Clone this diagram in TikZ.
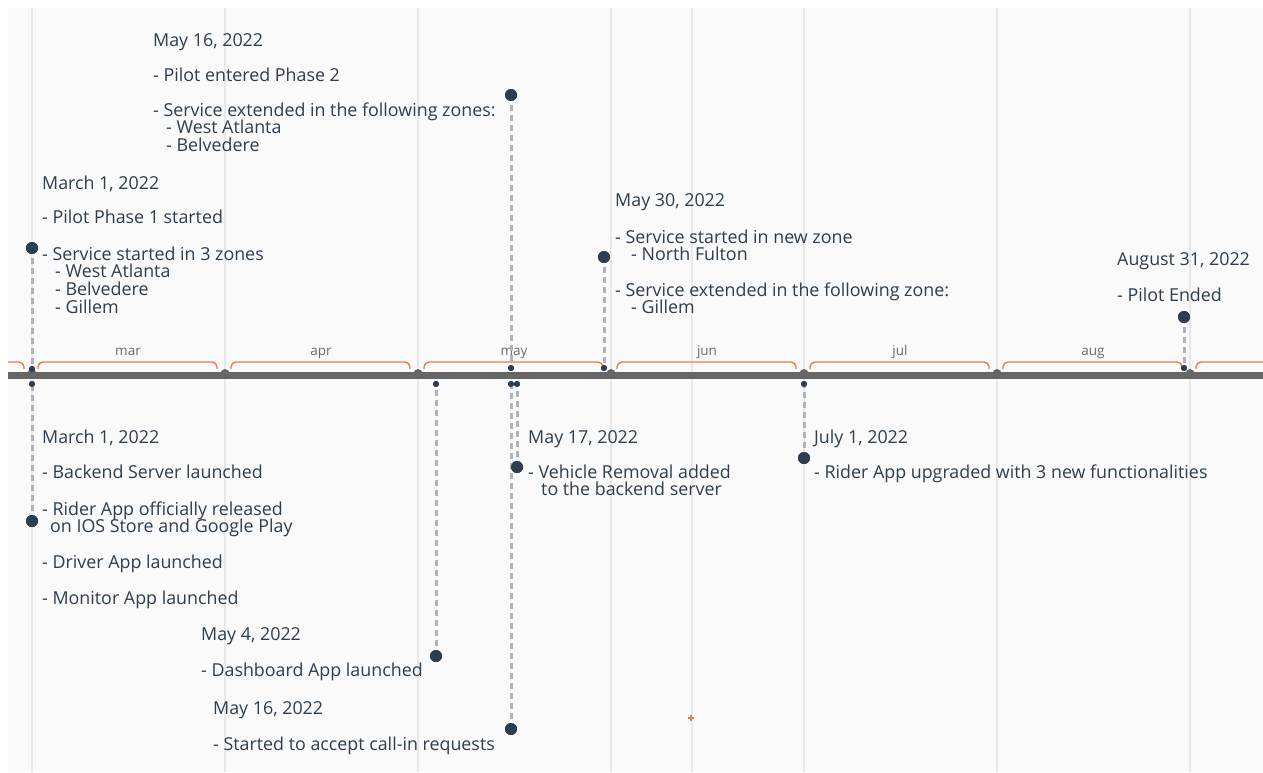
\documentclass[tikz,border=0pt]{standalone}
\usepackage{fontspec}
\setmainfont{Open Sans}
\definecolor{ink}{HTML}{2C3E50}
\definecolor{panel}{HTML}{FAFAFA}
\definecolor{gridc}{HTML}{E8E8E8}
\definecolor{axisc}{HTML}{666666}
\definecolor{dashc}{HTML}{B0B3BA}
\definecolor{bracec}{HTML}{F07A45}
\definecolor{monthc}{HTML}{6A6A6A}
\tikzset{
  txt/.style={anchor=base west, inner sep=0pt, text=ink, font=\fontsize{17.85}{18}\selectfont},
  month/.style={anchor=base, inner sep=0pt, text=monthc, font=\fontsize{13.5}{15}\selectfont},
  bigdot/.style={circle, fill=ink, minimum size=12pt, inner sep=0pt},
  smalldot/.style={circle, fill=ink, minimum size=6pt, inner sep=0pt},
  bump/.style={circle, fill=axisc, minimum size=9pt, inner sep=0pt},
  stem/.style={draw=dashc, line width=3pt, dash pattern=on 6pt off 4pt},
  gridline/.style={draw=gridc, line width=1.5pt},
  brace/.style={draw=bracec, line width=1.4pt, rounded corners=5pt},
}
\newcommand\tl[4]{\node[txt] (#1) at (#2,#3) {#4};}
\begin{document}
\begin{tikzpicture}[x=1pt,y=-1pt]
\useasboundingbox (0,0) rectangle (1263,772);
\fill[white] (0,0) rectangle (1263,772);
\fill[panel] (8,8) rectangle (1263,772);
\foreach \x in {32,225,418,611,692,804,997,1190} \draw[gridline] (\x,8) -- (\x,772);
% braces
\begin{scope}
\clip (8,8) rectangle (1263,772);
\draw[brace] (-20,369) -- (-20,362) -- (24,362) -- (24,369);
\foreach \m in {32,225,418,611,804,997} {
  \draw[brace] (\m+6,369) -- (\m+6,362) -- (\m+185,362) -- (\m+185,369);
}
\draw[brace] (1196,369) -- (1196,362) -- (1290,362) -- (1290,369);
\end{scope}
% month labels
\node[month] (mmar) at (128,355) {mar};
\node[month] (mapr) at (321,355) {apr};
\node[month] (mmay) at (514,355) {may};
\node[month] (mjun) at (707,355) {jun};
\node[month] (mjul) at (900,355) {jul};
\node[month] (maug) at (1093,355) {aug};
% event dots
\node[bigdot] (a1) at (32,248) {};   \node[smalldot] (a1s) at (32,369) {};
\node[bigdot] (a2) at (511,95) {};   \node[smalldot] (a2s) at (511,368) {};
\node[bigdot] (a3) at (604,257) {};  \node[smalldot] (a3s) at (604,368) {};
\node[bigdot] (a4) at (1184,317) {}; \node[smalldot] (a4s) at (1184,368) {};
\node[bigdot] (b1) at (32,521) {};   \node[smalldot] (b1s) at (32,384) {};
\node[bigdot] (b2) at (436,656) {};  \node[smalldot] (b2s) at (436,384) {};
\node[bigdot] (b3) at (511,729) {};  \node[smalldot] (b3s) at (511,384) {};
\node[bigdot] (b4) at (517,467) {};  \node[smalldot] (b4s) at (517,384) {};
\node[bigdot] (b5) at (804,458) {};  \node[smalldot] (b5s) at (804,384) {};
\foreach \e in {a1,a2,a3,a4,b1,b2,b3,b4,b5} \draw[stem] (\e.center) -- (\e s.center);
% axis
\coordinate (axl) at (8,375.5);
\coordinate (axr) at (1263,375.5);
\draw[axisc, line width=7pt] (axl) -- (axr);
\foreach \m/\n in {225/k1,418/k2,611/k3,804/k4,997/k5,1190/k6} \node[bump] (\n) at (\m,373.5) {};
\node[bump] (k0) at (32,373.5) {};
% redraw dots above axis
\foreach \e/\x/\y in {a1s/32/369,a2s/511/368,a3s/604/368,a4s/1184/368,b1s/32/384,b2s/436/384,b3s/511/384,b4s/517/384,b5s/804/384}
  \node[smalldot] (\e r) at (\x,\y) {};
\foreach \e/\x/\y in {a1/32/248,a2/511/95,a3/604/257,a4/1184/317,b1/32/521,b2/436/656,b3/511/729,b4/517/467,b5/804/458}
  \node[bigdot] (\e r) at (\x,\y) {};
% current time marker
\draw[bracec, line width=1.2pt] (688,718) -- (694,718) (691,715) -- (691,721);
% texts top
\tl{t1a}{42}{189}{March 1, 2022}
\tl{t1b}{42}{223}{- Pilot Phase 1 started}
\tl{t1c}{42}{260}{- Service started in 3 zones}
\tl{t1d}{55}{277}{- West Atlanta}
\tl{t1e}{55}{295}{- Belvedere}
\tl{t1f}{55}{313}{- Gillem}
\tl{t2a}{153}{46}{May 16, 2022}
\tl{t2b}{153}{81}{- Pilot entered Phase 2}
\tl{t2c}{153}{116}{- Service extended in the following zones:}
\tl{t2d}{166}{133}{- West Atlanta}
\tl{t2e}{166}{151}{- Belvedere}
\tl{t3a}{615}{206}{May 30, 2022}
\tl{t3b}{615}{243}{- Service started in new zone}
\tl{t3c}{631}{260}{- North Fulton}
\tl{t3d}{615}{296}{- Service extended in the following zone:}
\tl{t3e}{631}{313}{- Gillem}
\tl{t4a}{1117}{265}{August 31, 2022}
\tl{t4b}{1117}{301}{- Pilot Ended}
% texts bottom
\tl{u1a}{42}{443}{March 1, 2022}
\tl{u1b}{42}{478}{- Backend Server launched}
\tl{u1c}{42}{515}{- Rider App officially released}
\tl{u1d}{50}{532}{on IOS Store and Google Play}
\tl{u1e}{42}{568}{- Driver App launched}
\tl{u1f}{42}{604}{- Monitor App launched}
\tl{u2a}{201}{640}{May 4, 2022}
\tl{u2b}{201}{676}{- Dashboard App launched}
\tl{u3a}{213}{714}{May 16, 2022}
\tl{u3b}{213}{750}{- Started to accept call-in requests}
\tl{u4a}{528}{443}{May 17, 2022}
\tl{u4b}{528}{478}{- Vehicle Removal added}
\tl{u4c}{541}{495}{to the backend server}
\tl{u5a}{814}{443}{July 1, 2022}
\tl{u5b}{814}{478}{- Rider App upgraded with 3 new functionalities}
\end{tikzpicture}
\end{document}
